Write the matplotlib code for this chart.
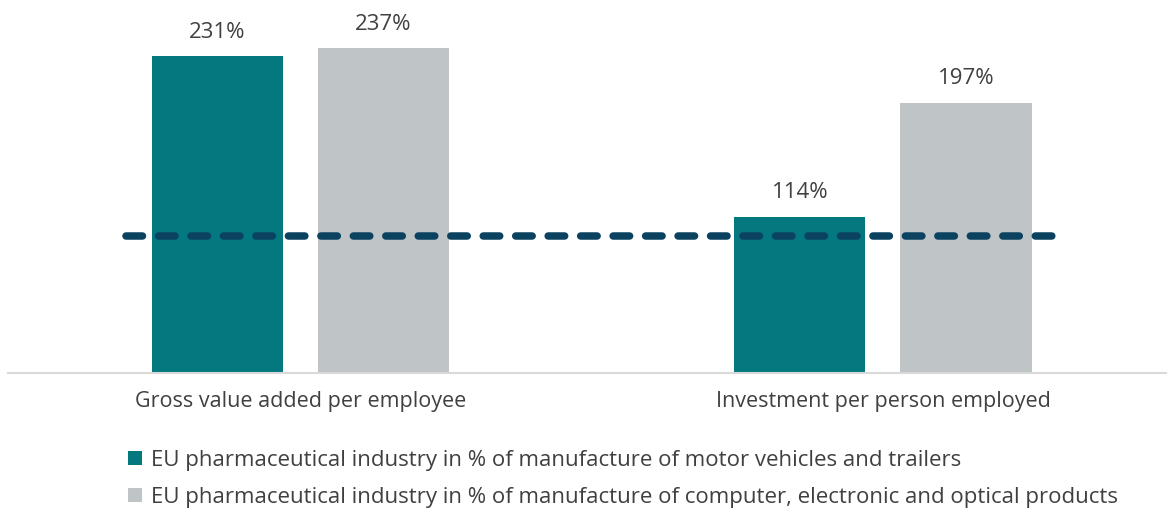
import matplotlib.pyplot as plt
import numpy as np

# data (values in % of the comparison industry)
categories = ['Gross value added per employee', 'Investment per person employed']
motor_vehicles = [231, 114]
computer_electronics = [237, 197]
reference_level = 100
series_names = [
    'EU pharmaceutical industry in % of manufacture of motor vehicles and trailers',
    'EU pharmaceutical industry in % of manufacture of computer, electronic and optical products',
]

plt.rcParams['font.family'] = ['Open Sans', 'DejaVu Sans']
text_color = '#404040'
teal = '#03787F'
grey = '#BFC4C7'
navy = '#0B4260'

W, H = 1167, 509
fig = plt.figure(figsize=(W / 100, H / 100), dpi=100)
ax = fig.add_axes([8 / W, 136 / H, 1159 / W, 373 / H])

x = np.arange(len(categories))
width = 0.225
offset = 0.1425

b1 = ax.bar(x - offset, motor_vehicles, width, color=teal, label=series_names[0], zorder=2)
b2 = ax.bar(x + offset, computer_electronics, width, color=grey, label=series_names[1], zorder=2)

# 100% reference line
ax.plot([x[0] - 0.3, x[-1] + 0.3], [reference_level, reference_level],
        color=navy, lw=5.4, dashes=(2.2, 2.13), dash_capstyle='round', zorder=3)

# value labels
for bars, vals in ((b1, motor_vehicles), (b2, computer_electronics)):
    for rect, v in zip(bars, vals):
        ax.annotate(f'{v}%', (rect.get_x() + rect.get_width() / 2, v),
                    xytext=(0, 13.3), textcoords='offset points',
                    ha='center', va='baseline', fontsize=16, color=text_color)

ax.set_xlim(-0.502, 1.4876)
ax.set_ylim(0, 272)
ax.set_yticks([])
ax.set_xticks(x, categories)
ax.tick_params(axis='x', length=0, pad=13, labelsize=15.5, labelcolor=text_color)

for s in ['top', 'left', 'right']:
    ax.spines[s].set_visible(False)
ax.spines['bottom'].set_color('#D9D9D9')
ax.spines['bottom'].set_linewidth(1.5)

fig.legend(handles=[b1, b2], loc='upper left', bbox_to_anchor=(128 / W, 1 - 450 / H),
           frameon=False, fontsize=16, handlelength=0.63, handleheight=0.58,
           handletextpad=0.4, labelspacing=0.72, borderpad=0, borderaxespad=0,
           labelcolor=text_color)

fig.savefig('out.png', dpi=100)
